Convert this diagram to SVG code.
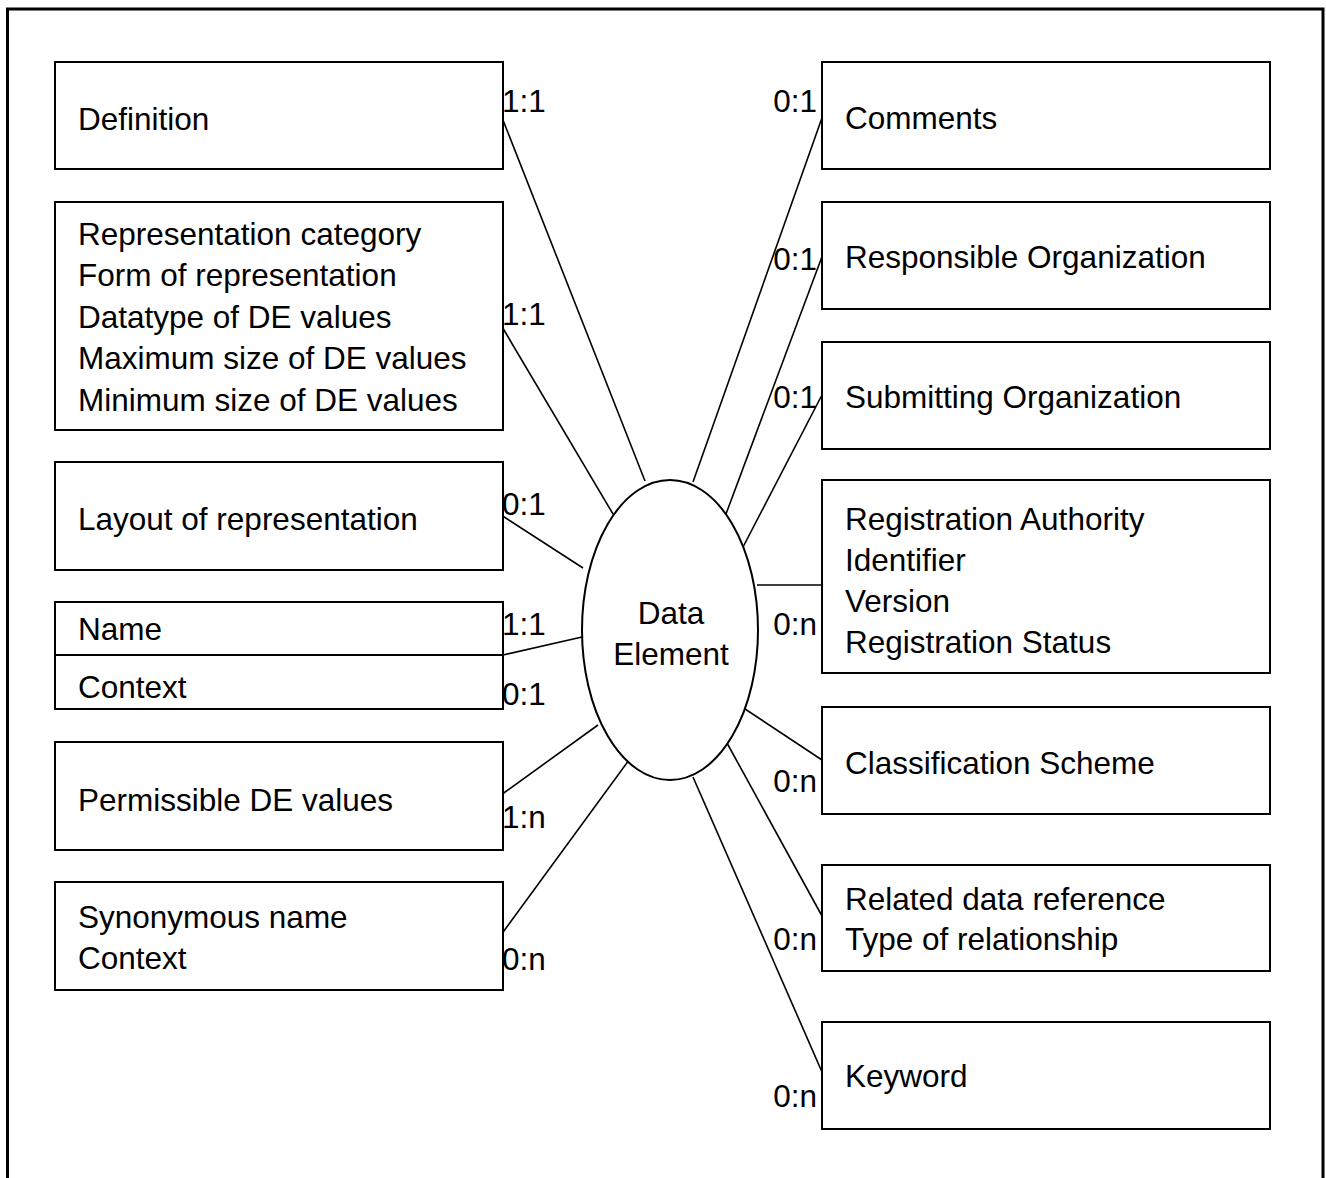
<svg xmlns="http://www.w3.org/2000/svg" width="1326" height="1178" viewBox="0 0 1326 1178">
<style>
.box{fill:#fff;stroke:#000;stroke-width:2}
.t{font-family:"Liberation Sans",Arial,sans-serif;font-size:31.5px;fill:#000}
.c line{stroke:#000;stroke-width:1.6}
.e{text-anchor:end}
.m{text-anchor:middle}
</style>
<rect x="0" y="0" width="1326" height="1178" fill="#fff"/>
<rect x="7.5" y="9" width="1315.5" height="1200" fill="none" stroke="#000" stroke-width="3"/>

<g class="c" id="connectors">
<line x1="501" y1="115" x2="645" y2="481"/>
<line x1="501" y1="325" x2="613" y2="514"/>
<line x1="501" y1="515" x2="583" y2="568"/>
<line x1="503" y1="655" x2="582" y2="637"/>
<line x1="501" y1="795" x2="598" y2="725"/>
<line x1="501" y1="935" x2="629" y2="760"/>
<line x1="823" y1="115" x2="693" y2="482"/>
<line x1="823" y1="254" x2="726" y2="514"/>
<line x1="823" y1="393" x2="742" y2="549"/>
<line x1="757" y1="585" x2="822" y2="585"/>
<line x1="742" y1="707" x2="822" y2="760"/>
<line x1="727" y1="743" x2="822" y2="916"/>
<line x1="693" y1="777" x2="822" y2="1072"/>
</g>

<g id="data-element">
<ellipse cx="670" cy="630" rx="88" ry="150" fill="#fff" stroke="#000" stroke-width="2"/>
<text class="t m" x="671" y="624">Data</text>
<text class="t m" x="671" y="665">Element</text>
</g>

<g id="definition">
<rect class="box" x="55" y="62" width="448" height="107"/>
<text class="t" x="78" y="130">Definition</text>
<text class="t" x="502" y="112">1:1</text>
</g>

<g id="representation">
<rect class="box" x="55" y="202" width="448" height="228"/>
<text class="t" x="78" y="245">Representation category</text>
<text class="t" x="78" y="286">Form of representation</text>
<text class="t" x="78" y="328">Datatype of DE values</text>
<text class="t" x="78" y="369">Maximum size of DE values</text>
<text class="t" x="78" y="411">Minimum size of DE values</text>
<text class="t" x="502" y="325">1:1</text>
</g>

<g id="layout">
<rect class="box" x="55" y="462" width="448" height="108"/>
<text class="t" x="78" y="530">Layout of representation</text>
<text class="t" x="502" y="515">0:1</text>
</g>

<g id="name-context">
<rect class="box" x="55" y="602" width="448" height="107"/>
<line x1="55" y1="655" x2="503" y2="655" stroke="#000" stroke-width="2"/>
<text class="t" x="78" y="640">Name</text>
<text class="t" x="78" y="698">Context</text>
<text class="t" x="502" y="635">1:1</text>
<text class="t" x="502" y="705">0:1</text>
</g>

<g id="permissible">
<rect class="box" x="55" y="742" width="448" height="108"/>
<text class="t" x="78" y="811">Permissible DE values</text>
<text class="t" x="502" y="828">1:n</text>
</g>

<g id="synonymous">
<rect class="box" x="55" y="882" width="448" height="108"/>
<text class="t" x="78" y="928">Synonymous name</text>
<text class="t" x="78" y="969">Context</text>
<text class="t" x="502" y="970">0:n</text>
</g>

<g id="comments">
<rect class="box" x="822" y="62" width="448" height="107"/>
<text class="t" x="845" y="129">Comments</text>
<text class="t e" x="817" y="112">0:1</text>
</g>

<g id="responsible">
<rect class="box" x="822" y="202" width="448" height="107"/>
<text class="t" x="845" y="268">Responsible Organization</text>
<text class="t e" x="817" y="270">0:1</text>
</g>

<g id="submitting">
<rect class="box" x="822" y="342" width="448" height="107"/>
<text class="t" x="845" y="408">Submitting Organization</text>
<text class="t e" x="817" y="408">0:1</text>
</g>

<g id="registration">
<rect class="box" x="822" y="480" width="448" height="193"/>
<text class="t" x="845" y="530">Registration Authority</text>
<text class="t" x="845" y="571">Identifier</text>
<text class="t" x="845" y="612">Version</text>
<text class="t" x="845" y="653">Registration Status</text>
<text class="t e" x="817" y="635">0:n</text>
</g>

<g id="classification">
<rect class="box" x="822" y="707" width="448" height="107"/>
<text class="t" x="845" y="774">Classification Scheme</text>
<text class="t e" x="817" y="792">0:n</text>
</g>

<g id="related">
<rect class="box" x="822" y="865" width="448" height="106"/>
<text class="t" x="845" y="910">Related data reference</text>
<text class="t" x="845" y="950">Type of relationship</text>
<text class="t e" x="817" y="950">0:n</text>
</g>

<g id="keyword">
<rect class="box" x="822" y="1022" width="448" height="107"/>
<text class="t" x="845" y="1087">Keyword</text>
<text class="t e" x="817" y="1107">0:n</text>
</g>
</svg>
